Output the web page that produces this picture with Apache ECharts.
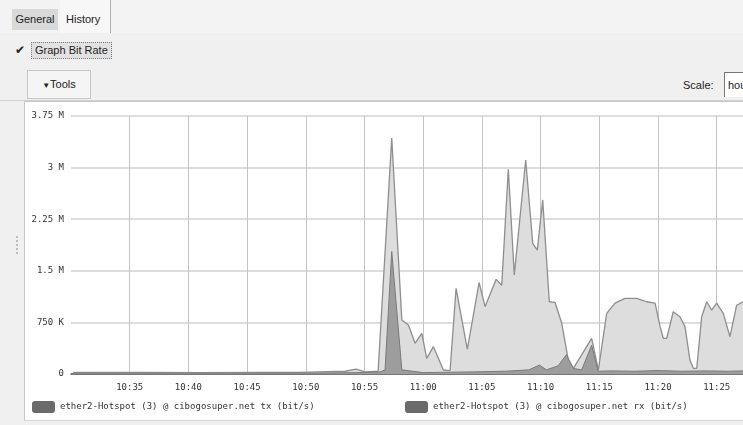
<!DOCTYPE html>
<html>
<head>
<meta charset="utf-8">
<script src="https://cdn.jsdelivr.net/npm/echarts@6/dist/echarts.min.js"></script>
<style>
  html, body { margin:0; padding:0; width:743px; height:425px; overflow:hidden; background:#f0f0f0; font-family:"Liberation Sans", "DejaVu Sans", sans-serif; font-size:11px; color:#222; }
  .abs { position:absolute; }
  #chart { position:absolute; left:0; top:0; width:743px; height:425px; }
</style>
</head>
<body>
<!-- tabs -->
<div class="abs" style="left:0;top:0;width:743px;height:33px;background:#f3f3f3;"></div>
<div class="abs" style="left:12px;top:9px;width:46px;height:21px;background:#d9d9d9;line-height:21px;text-align:center;">General</div>
<div class="abs" style="left:60px;top:0;width:50px;height:33px;background:#f7f7f7;border-right:1px solid #b0b0b0;"></div>
<div class="abs" style="left:66px;top:9px;line-height:21px;">History</div>
<!-- checkbox -->
<div class="abs" style="left:15px;top:42px;font-size:12px;line-height:16px;color:#222;">&#10004;</div>
<div class="abs" style="left:31px;top:42px;height:15px;line-height:15px;padding:0 3px;background:#e2e2e2;border:1px dotted #777;">Graph Bit Rate</div>
<!-- tools button -->
<div class="abs" style="left:27px;top:70px;width:62px;height:27px;border:1px solid #c6c6c6;background:#f5f5f5;line-height:27px;text-align:center;"><span style="font-size:8px;">&#9660;</span>Tools</div>
<!-- scale -->
<div class="abs" style="left:683px;top:78px;line-height:14px;">Scale:</div>
<div class="abs" style="left:724px;top:72px;width:30px;height:24px;border-left:1px solid #777;border-top:1px solid #777;background:#fff;line-height:24px;padding-left:3px;">hour</div>
<!-- panel -->
<div class="abs" style="left:0;top:100px;width:743px;height:1px;background:#d0d0d0;"></div>
<div class="abs" style="left:24px;top:101px;width:730px;height:318px;background:#fff;border-left:1px solid #c8c8c8;border-top:1px solid #c8c8c8;border-bottom:1px solid #d8d8d8;"></div>
<div class="abs" style="left:16px;top:236px;width:2px;height:18px;border-left:2px dotted #bbb;"></div>
<div id="chart"></div>
<script>
// time in minutes after 10:00
const xTicks = [35, 40, 45, 50, 55, 60, 65, 70, 75, 80, 85];
const xTickLabels = ['10:35','10:40','10:45','10:50','10:55','11:00','11:05','11:10','11:15','11:20','11:25'];
const yTickLabels = ['0','750 K','1.5 M','2.25 M','3 M','3.75 M'];

// rx (bit/s)
const rxTimes = [30.19, 36.0, 41.0, 46.0, 49.5, 53.35, 54.28, 55.05, 56.16, 56.33, 57.32, 58.18, 58.74, 59.31, 59.88, 60.30, 60.87, 61.72, 62.29, 62.80, 63.76, 64.76, 65.27, 66.21, 66.69, 67.25, 67.76, 68.73, 69.33, 69.72, 70.18, 70.74, 71.23, 71.80, 72.36, 72.79, 74.35, 74.92, 75.63, 76.34, 77.19, 78.19, 79.04, 79.75, 80.18, 80.45, 80.74, 81.30, 81.87, 82.30, 82.72, 83.01, 83.30, 83.72, 84.15, 84.57, 85.00, 85.56, 86.13, 86.70, 87.24];
const rxValues = [25000, 22000, 20000, 24000, 25000, 40000, 70000, 30000, 40000, 60000, 3430000, 785000, 712000, 446000, 591000, 228000, 397000, 58000, 50000, 1245000, 359000, 1330000, 978000, 1376000, 1290000, 2975000, 1440000, 3110000, 1900000, 1800000, 2530000, 1050000, 1040000, 737000, 203000, 83000, 519000, 58000, 882000, 1030000, 1100000, 1100000, 1050000, 1030000, 688000, 519000, 519000, 905000, 833000, 688000, 203000, 83000, 83000, 833000, 1050000, 930000, 1030000, 882000, 542000, 1000000, 1050000];

// tx (bit/s)
const txTimes = [30.19, 40.0, 50.0, 54.3, 56.33, 56.75, 57.32, 58.18, 60.0, 62.0, 64.0, 67.0, 69.0, 69.9, 70.5, 71.5, 72.2, 72.8, 73.5, 74.35, 74.9, 76.0, 78.0, 80.0, 82.0, 84.0, 86.0, 87.24];
const txValues = [10000, 12000, 12000, 20000, 30000, 60000, 1780000, 60000, 20000, 25000, 30000, 40000, 60000, 130000, 60000, 120000, 280000, 80000, 60000, 420000, 40000, 45000, 40000, 50000, 40000, 45000, 40000, 45000];

const rxData = rxTimes.map((t, i) => [t, rxValues[i]]);
const txData = txTimes.map((t, i) => [t, txValues[i]]);

const chart = echarts.init(document.getElementById('chart'), null, { renderer: 'canvas' });
const mono = 'DejaVu Sans Mono';
chart.setOption({
  animation: false,
  backgroundColor: 'transparent',
  grid: { left: 71, right: 0, top: 116, bottom: 51, containLabel: false },
  xAxis: {
    type: 'value', min: 30, max: 87.24, interval: 5,
    axisLine: { show: true, lineStyle: { color: '#555', width: 1.5 } },
    axisTick: { show: false },
    axisLabel: {
      showMinLabel: false, showMaxLabel: false, margin: 9,
      fontFamily: mono, fontSize: 9, color: '#333',
      formatter: function (v) { const i = xTicks.indexOf(Math.round(v)); return (i >= 0 && Math.abs(v - xTicks[i]) < 1e-6) ? xTickLabels[i] : ''; }
    },
    splitLine: { show: true, showMinLine: false, showMaxLine: false, lineStyle: { color: '#c4c4c4', width: 1 } }
  },
  yAxis: {
    type: 'value', min: 0, max: 3750000, interval: 750000,
    axisLine: { show: false }, axisTick: { show: false },
    axisLabel: {
      margin: 7, fontFamily: mono, fontSize: 9, color: '#333',
      formatter: function (v, idx) { return yTickLabels[Math.round(v / 750000)]; }
    },
    splitLine: { show: true, lineStyle: { color: '#d2d2d2', width: 1.5 } }
  },
  legend: [
    { data: ['ether2-Hotspot (3) @ cibogosuper.net tx (bit/s)'], left: 32, top: 401, itemWidth: 23, itemHeight: 12, icon: 'roundRect',
      itemStyle: { color: '#6a6a6a', borderWidth: 0 }, textStyle: { fontFamily: mono, fontSize: 9, color: '#333' }, padding: 0 },
    { data: ['ether2-Hotspot (3) @ cibogosuper.net rx (bit/s)'], left: 405, top: 401, itemWidth: 23, itemHeight: 12, icon: 'roundRect',
      itemStyle: { color: '#6a6a6a', borderWidth: 0 }, textStyle: { fontFamily: mono, fontSize: 9, color: '#333' }, padding: 0 }
  ],
  series: [
    { name: 'ether2-Hotspot (3) @ cibogosuper.net tx (bit/s)', type: 'line', data: txData, z: 4,
      symbol: 'none', lineStyle: { color: '#7a7a7a', width: 1 }, itemStyle: { color: '#6a6a6a' },
      areaStyle: { color: '#9d9d9d', opacity: 1 } },
    { name: 'ether2-Hotspot (3) @ cibogosuper.net rx (bit/s)', type: 'line', data: rxData, z: 3,
      symbol: 'none', lineStyle: { color: '#8e8e8e', width: 1.3 }, itemStyle: { color: '#6a6a6a' },
      areaStyle: { color: '#dddddd', opacity: 1 } }
  ]
});
</script>
</body>
</html>
